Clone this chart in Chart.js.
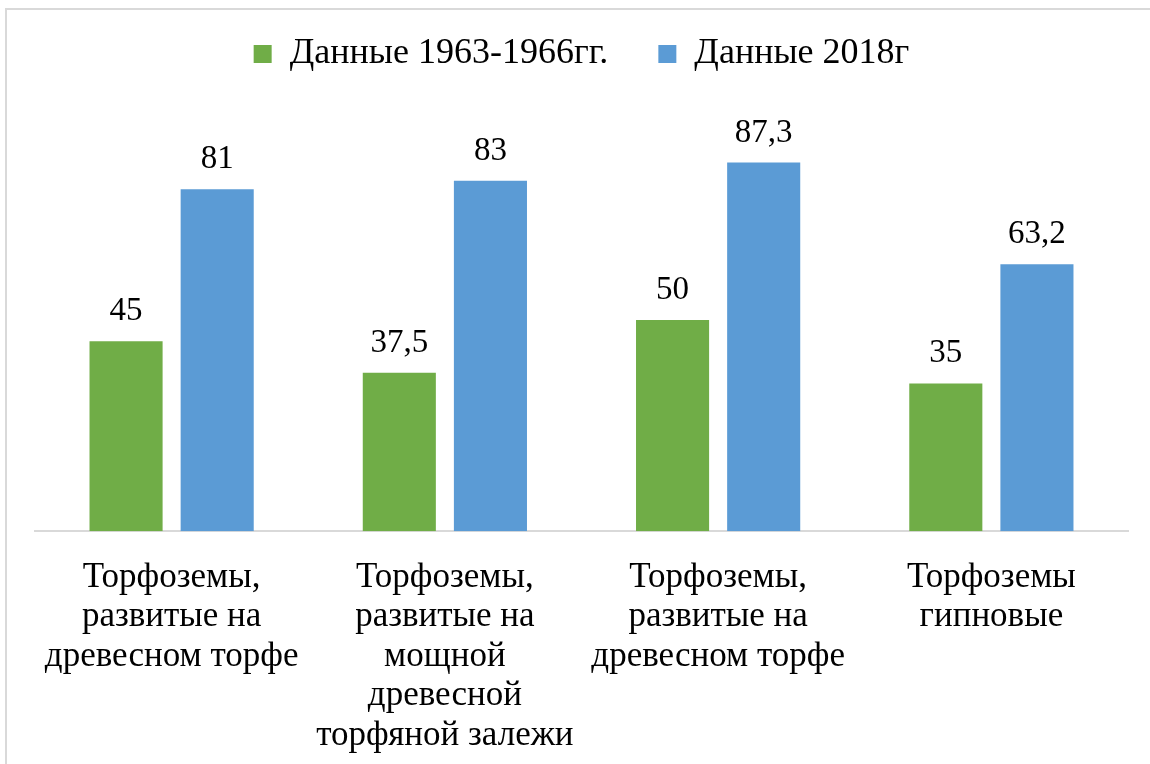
<!DOCTYPE html>
<html>
<head>
<meta charset="utf-8">
<script src="https://cdn.jsdelivr.net/npm/chart.js@4"></script>
<style>
  html, body { margin: 0; padding: 0; background: #fff; overflow: hidden; }
  #wrap { position: relative; width: 1150px; height: 764px; }
  #frame { position: absolute; left: 5px; top: 8px; width: 1160px; height: 780px;
           border: 2px solid #d9d9d9; box-sizing: border-box; pointer-events: none; }
</style>
</head>
<body>
<div id="wrap">
  <canvas id="chart" width="1150" height="764"></canvas>
  <div id="frame"></div>
</div>
<script>
const categories = [
    ["Торфоземы,", "развитые на", "древесном торфе"],
    ["Торфоземы,", "развитые на", "мощной", "древесной", "торфяной залежи"],
    ["Торфоземы,", "развитые на", "древесном торфе"],
    ["Торфоземы", "гипновые"]
];
const seriesNames = ["Данные 1963-1966гг.", "Данные 2018г"];
const oldValues = [45, 37.5, 50, 35];
const newValues = [81, 83, 87.3, 63.2];

const FONT = "'Liberation Serif', 'Times New Roman', serif";

// values written with a comma like in the original
let fmt = v => String(v).replace(".", ",");

const valueLabels = {
    id: "valueLabels",
    beforeLayout(chart) {
        // keep the legend block a fixed height so the plot area starts lower
        const lg = chart.legend;
        if (lg && !lg._fixed) {
            const fit = lg.fit.bind(lg);
            lg.fit = function () { fit(); this.height = 123; };
            lg._fixed = true;
        }
    },
    afterDatasetsDraw(chart) {
        const ctx = chart.ctx;
        ctx.save();
        ctx.font = "33px " + FONT;
        ctx.fillStyle = "#000";
        ctx.textAlign = "center";
        ctx.textBaseline = "alphabetic";
        chart.data.datasets.forEach((ds, i) => {
            chart.getDatasetMeta(i).data.forEach((bar, j) => {
                ctx.fillText(fmt(ds.data[j]), bar.x, bar.y - 21);
            });
        });
        ctx.restore();
    }
};

new Chart(document.getElementById("chart").getContext("2d"), {
    type: "bar",
    data: {
        labels: categories,
        datasets: [
            { label: seriesNames[0], data: oldValues, backgroundColor: "#70AD47" },
            { label: seriesNames[1], data: newValues, backgroundColor: "#5B9BD5" }
        ]
    },
    options: {
        responsive: false,
        animation: false,
        events: [],
        categoryPercentage: 0.667,
        barPercentage: 0.802,
        layout: { padding: { left: 35, right: 22, top: -14, bottom: -18 } },
        plugins: {
            tooltip: { enabled: false },
            legend: {
                position: "top",
                labels: {
                    font: { family: FONT, size: 36 },
                    color: "#000",
                    boxWidth: 18,
                    boxHeight: 18,
                    padding: 50
                }
            }
        },
        scales: {
            x: {
                grid: { display: false, drawTicks: false },
                border: { display: true, color: "#d9d9d9", width: 2 },
                ticks: {
                    color: "#000",
                    font: { family: FONT, size: 35, lineHeight: 1.125 },
                    padding: 27,
                    maxRotation: 0,
                    autoSkip: false
                }
            },
            y: {
                display: false,
                min: 0,
                max: 100
            }
        }
    },
    plugins: [valueLabels]
});
</script>
</body>
</html>
